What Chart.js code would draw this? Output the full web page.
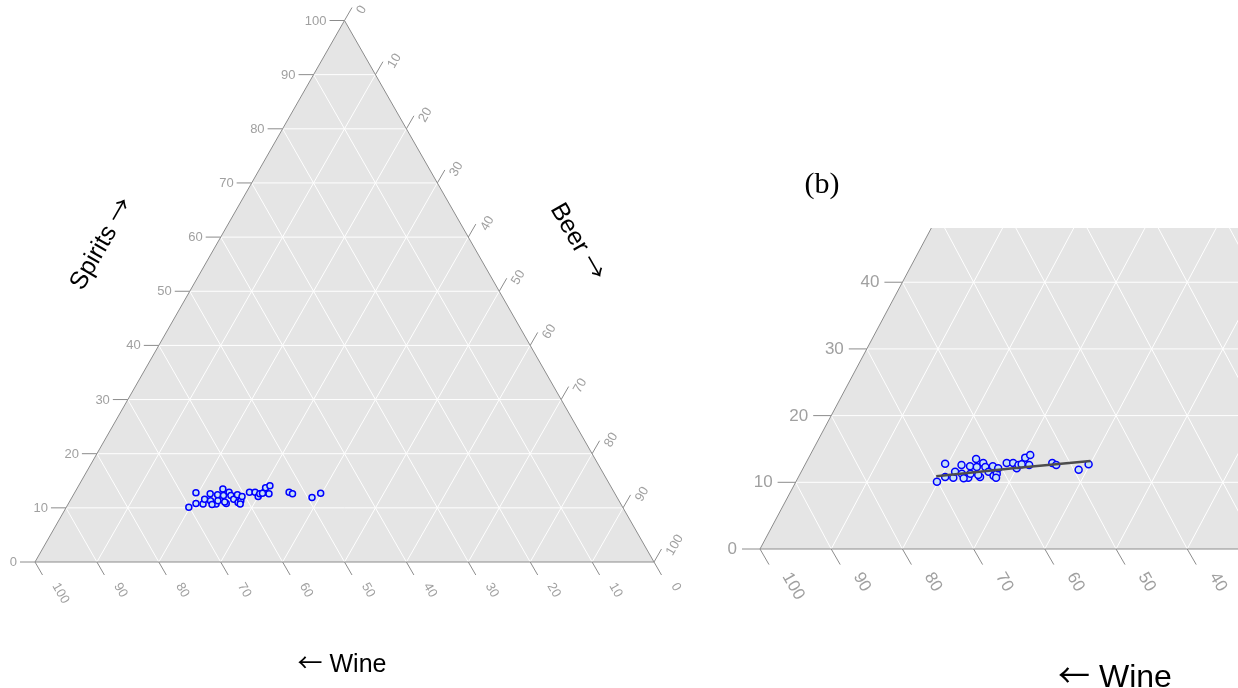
<!DOCTYPE html>
<html><head><meta charset="utf-8">
<script src="https://cdn.jsdelivr.net/npm/chart.js@4.4.1/dist/chart.umd.min.js"></script>
<style>
html,body{margin:0;padding:0;background:#fff;}
body{width:1238px;height:688px;overflow:hidden;position:relative;}
canvas{position:absolute;top:0;}
#c1{left:0;} #c2{left:700px;}
</style></head>
<body>
<canvas id="c1" width="700" height="688"></canvas>
<canvas id="c2" width="538" height="688"></canvas>
<script>
// ---- data (composition in %, per country) ----
const wine    = [70.1,67.6,68.6,67.5,66.8,65.4,66.0,65.4,64.3,64.8,62.9,63.4,63.7,62.2,62.2,62.1,61.1,61.7,61.1,60.5,61.5,58.9,58.0,57.9,56.5,55.9,55.0,55.9,52.5,52.1,49.3,47.5,66.1,63.8,57.4,56.9];
const beer    = [19.8,19.6,20.6,21.8,21.6,22.0,22.7,23.9,23.3,23.9,23.6,24.3,25.5,24.9,25.5,26.3,26.5,27.3,27.6,27.4,27.8,28.2,29.1,30.0,30.6,30.4,30.9,31.5,34.6,35.3,38.8,39.8,23.3,25.1,30.0,30.4];
const spirits = [10.1,12.8,10.8,10.7,11.6,12.6,11.3,10.7,12.4,11.3,13.5,12.3,10.8,12.9,12.3,11.6,12.4,11.0,11.3,12.1,10.7,12.9,12.9,12.1,12.9,13.7,14.1,12.6,12.9,12.6,11.9,12.7,10.6,11.1,12.6,12.7];
// fitted trend (right panel)
const fitWine    = [69.8, 58.4, 47.0];
const fitBeer    = [19.3, 29.5, 39.8];
const fitSpirits = [10.9, 12.1, 13.2];
// tick labels
const ticksFull  = [0,10,20,30,40,50,60,70,80,90,100];
const ticksZoomS = [0,10,20,30,40];
const ticksZoomW = [100,90,80,70,60,50,40];
const gridSteps  = [10,20,30,40,50,60,70,80,90];

const tern = (w,b,s) => { const t = w+b+s; return {x:(b + s/2)*100/t, y:s*100/t}; };
const pts  = wine.map((w,i)=>tern(w,beer[i],spirits[i]));
const fit  = fitWine.map((w,i)=>tern(w,fitBeer[i],fitSpirits[i]));

const SANS = '"Liberation Sans", Arial, sans-serif';
const ARROW = '"Noto Sans CJK JP", "DejaVu Sans", sans-serif';

const ternaryPlugin = {
  id:'ternary',
  beforeDatasetsDraw(chart, args, o){
    const {ctx, chartArea:a, scales:{x,y}} = chart;
    const P = (X,Y)=>[x.getPixelForValue(X), y.getPixelForValue(Y)];
    ctx.save();
    ctx.beginPath();
    ctx.rect(a.left-o.clip[0], a.top-o.clip[1], a.width+o.clip[0]+o.clip[2], a.height+o.clip[1]+o.clip[3]);
    ctx.clip();
    const tri = ()=>{ ctx.beginPath(); ctx.moveTo(...P(0,0)); ctx.lineTo(...P(100,0)); ctx.lineTo(...P(50,100)); ctx.closePath(); };
    tri(); ctx.fillStyle='#e5e5e5'; ctx.fill();
    ctx.strokeStyle='#ffffff'; ctx.lineWidth=1;
    gridSteps.forEach(k=>{
      ctx.beginPath(); ctx.moveTo(...P(k/2,k)); ctx.lineTo(...P(100-k/2,k)); ctx.stroke();
      ctx.beginPath(); ctx.moveTo(...P(100-k,0)); ctx.lineTo(...P((100-k)/2,100-k)); ctx.stroke();
      ctx.beginPath(); ctx.moveTo(...P(k,0)); ctx.lineTo(...P(k+(100-k)/2,100-k)); ctx.stroke();
    });
    tri(); ctx.strokeStyle='#8c8c8c'; ctx.lineWidth=1; ctx.stroke();
    ctx.restore();
  },
  afterDraw(chart, args, o){
    const {ctx, scales:{x,y}} = chart;
    const P = (X,Y)=>[x.getPixelForValue(X), y.getPixelForValue(Y)];
    const c60 = Math.cos(Math.PI/3), s60 = Math.sin(Math.PI/3);
    ctx.save();
    ctx.font = o.font; ctx.fillStyle = '#a0a0a0'; ctx.strokeStyle = '#8c8c8c'; ctx.lineWidth = 1;
    o.sTicks.forEach(v=>{
      const [px,py] = P(v/2, v);
      ctx.beginPath(); ctx.moveTo(px,py); ctx.lineTo(px-o.len,py); ctx.stroke();
      ctx.textAlign='right'; ctx.textBaseline='middle';
      ctx.fillText(String(v), px-o.len-o.gap, py+0.5);
    });
    o.wTicks.forEach(v=>{
      const [px,py] = P(100-v, 0);
      ctx.beginPath(); ctx.moveTo(px,py); ctx.lineTo(px+o.len*c60, py+o.len*s60); ctx.stroke();
      ctx.save(); ctx.translate(px+o.wOff[0], py+o.wOff[1]); ctx.rotate(Math.PI/3);
      ctx.textAlign='left'; ctx.textBaseline='middle'; ctx.fillText(String(v),0,0); ctx.restore();
    });
    o.bTicks.forEach(v=>{
      const [px,py] = P(50+v/2, 100-v);
      ctx.beginPath(); ctx.moveTo(px,py); ctx.lineTo(px+o.len*c60, py-o.len*s60); ctx.stroke();
      ctx.save(); ctx.translate(px+o.bOff[0], py+o.bOff[1]); ctx.rotate(-Math.PI/3);
      ctx.textAlign='left'; ctx.textBaseline='middle'; ctx.fillText(String(v),0,0); ctx.restore();
    });
    o.titles.forEach(t=>{
      ctx.save(); ctx.translate(t.x,t.y); ctx.rotate(t.rot*Math.PI/180);
      ctx.fillStyle='#000'; ctx.textAlign='left'; ctx.textBaseline='alphabetic';
      const widths = t.parts.map(p=>{ ctx.font = p[1]; return ctx.measureText(p[0]).width; });
      let cx = -widths.reduce((s,w)=>s+w,0)/2;
      t.parts.forEach((p,i)=>{ ctx.font = p[1]; ctx.fillText(p[0], cx, t.base); cx += widths[i]; });
      ctx.restore();
    });
    ctx.restore();
  }
};

function makeChart(id, xmax, ymax, pad, pr, withFit, plug){
  const ds = [];
  if (withFit) ds.push({type:'scatter', data:fit, showLine:true, borderColor:'#4d4d4d', borderWidth:2.5, pointRadius:0, fill:false});
  ds.push({type:'scatter', data:pts, pointRadius:pr, pointBorderWidth:1.5, pointBorderColor:'#0000ff', pointBackgroundColor:'#c6e0f5'});
  return new Chart(document.getElementById(id), {
    type:'scatter',
    data:{datasets:ds},
    options:{
      responsive:false, animation:false, devicePixelRatio:1,
      layout:{padding:pad, autoPadding:false},
      scales:{ x:{type:'linear',min:0,max:xmax,display:false}, y:{type:'linear',min:0,max:ymax,display:false} },
      plugins:{ legend:{display:false}, tooltip:{enabled:false}, ternary:plug }
    },
    plugins:[ternaryPlugin]
  });
}

makeChart('c1', 100, 100, {left:35,right:46,top:20.5,bottom:126}, 3, false, {
  clip:[2,2,2,2], font:'13px '+SANS, len:15, gap:3,
  wOff:[20,22], bOff:[15.5,-7.5],
  sTicks:ticksFull, wTicks:ticksFull, bTicks:ticksFull,
  titles:[
    {parts:[['Spirits ', '25px '+SANS], ['\u2192', '25px '+ARROW]], x:100, y:243, rot:-60, base:9},
    {parts:[['Beer ', '25px '+SANS], ['\u2192', '25px '+ARROW]], x:579, y:241, rot:60, base:9},
    {parts:[['\u2190', '25px '+ARROW], [' Wine', '25px '+SANS]], x:342, y:663, rot:0, base:9}
  ]
});

makeChart('c2', 67.13, 48.13, {left:60,right:0,top:228,bottom:139}, 3.5, true, {
  clip:[1,0,0,1], font:'17px '+SANS, len:18, gap:5,
  wOff:[26,25], bOff:[0,0],
  sTicks:ticksZoomS, wTicks:ticksZoomW, bTicks:[],
  titles:[
    {parts:[['(b)', '30px "Liberation Serif", "Times New Roman", serif']], x:122, y:183, rot:0, base:10},
    {parts:[['\u2190', '32px '+ARROW], [' Wine', '32px '+SANS]], x:415, y:676, rot:0, base:11}
  ]
});
</script>
</body></html>
